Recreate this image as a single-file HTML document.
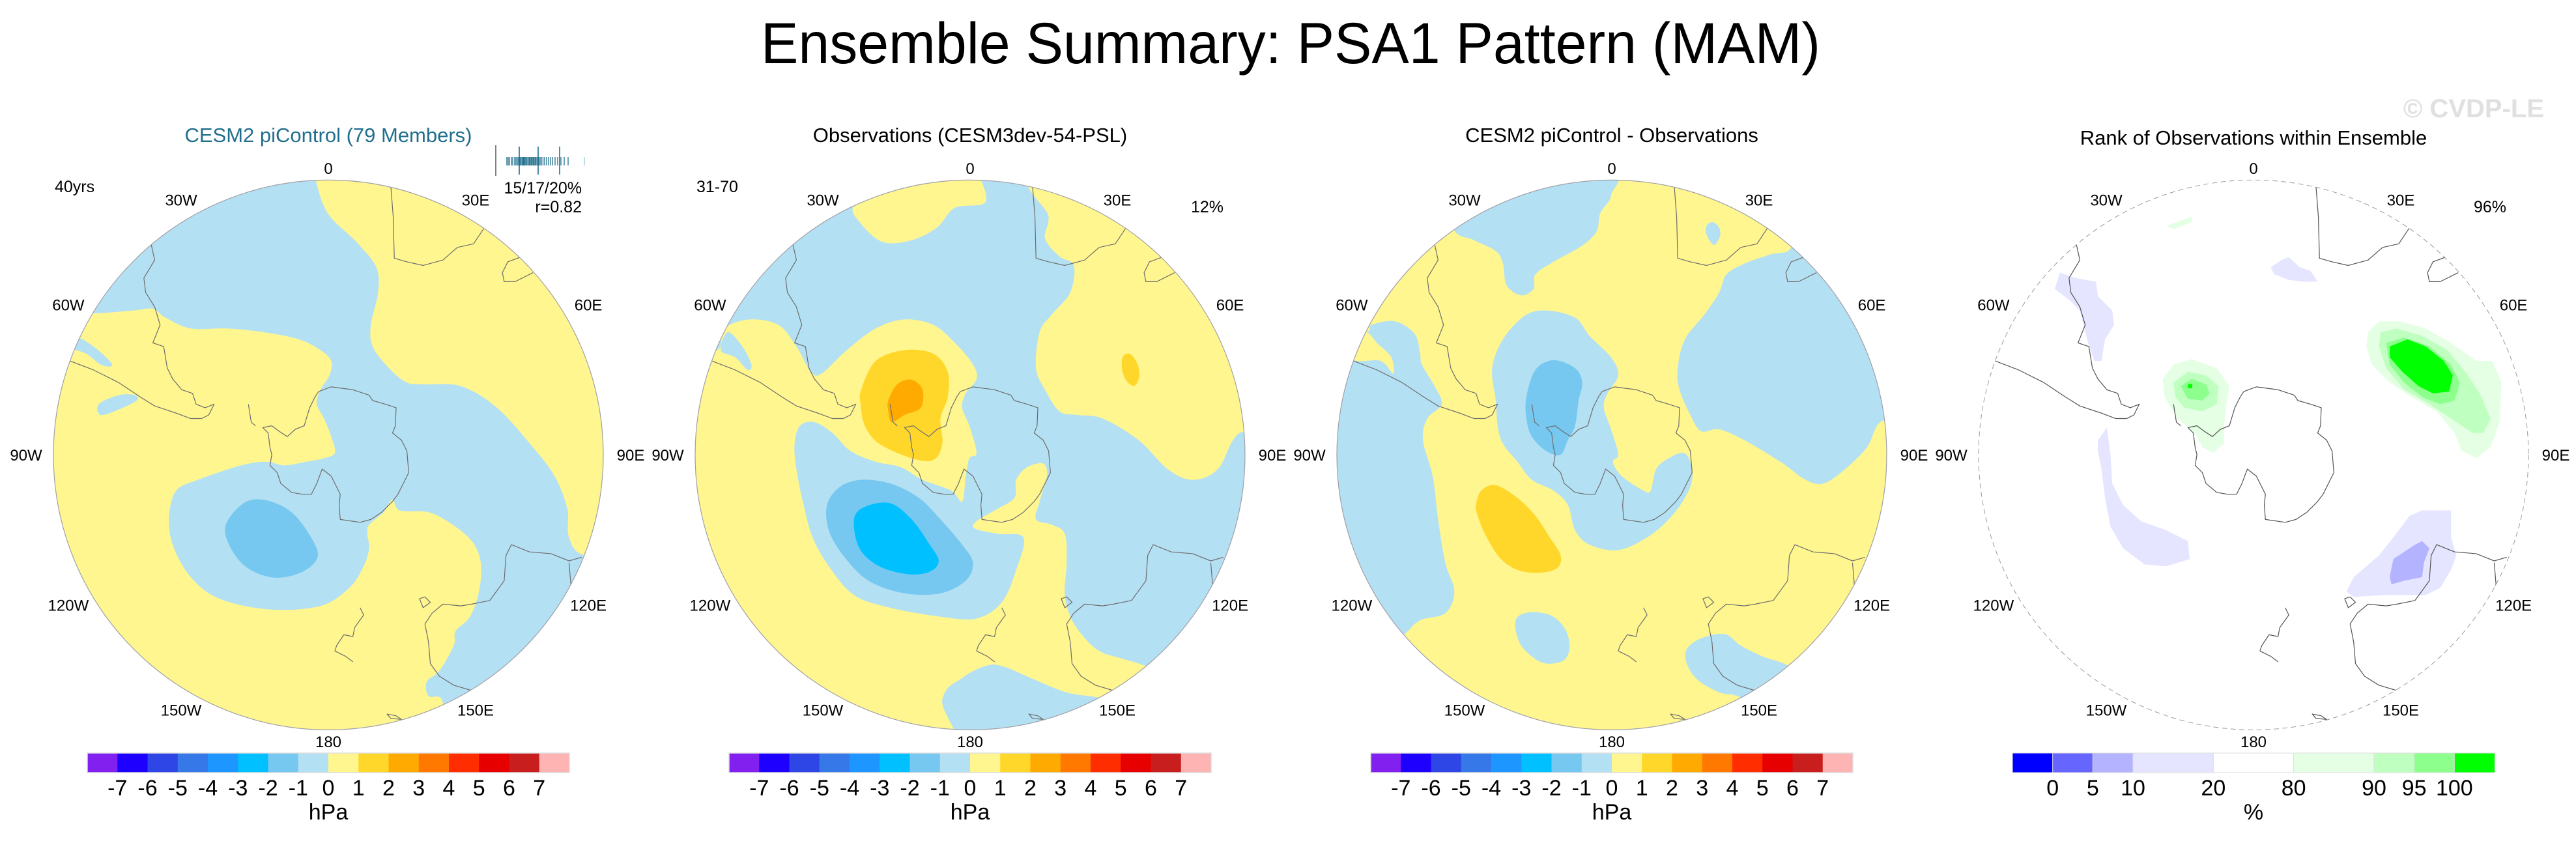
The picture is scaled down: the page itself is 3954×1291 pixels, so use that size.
<!DOCTYPE html>
<html><head><meta charset="utf-8"><style>
html,body{margin:0;padding:0;background:#fff;}
svg{display:block;font-family:"Liberation Sans",Arial,sans-serif;}
</style></head><body>
<svg id="root" width="3954" height="1291" viewBox="0 0 3954 1291" xmlns="http://www.w3.org/2000/svg">
<rect width="3954" height="1291" fill="#fff"/>
<text x="1981" y="97" font-size="89" text-anchor="middle" textLength="1626" lengthAdjust="spacingAndGlyphs" fill="#000">Ensemble Summary: PSA1 Pattern (MAM)</text>
<text x="3905" y="180" font-size="40" font-weight="bold" text-anchor="end" fill="#e0e0e0">© CVDP-LE</text>
<text x="504" y="218" font-size="31" text-anchor="middle" fill="#1f6e8c">CESM2 piControl (79 Members)</text>
<text x="1489" y="218" font-size="31" text-anchor="middle" fill="#000">Observations (CESM3dev-54-PSL)</text>
<text x="2474" y="218" font-size="31" text-anchor="middle" fill="#000">CESM2 piControl - Observations</text>
<text x="3459" y="222" font-size="31" text-anchor="middle" fill="#000">Rank of Observations within Ensemble</text>
<text x="84" y="295" font-size="25" fill="#000">40yrs</text>
<text x="893" y="297" font-size="25" text-anchor="end" fill="#000">15/17/20%</text>
<text x="893" y="326" font-size="25" text-anchor="end" fill="#000">r=0.82</text>
<text x="1069" y="295" font-size="25" fill="#000">31-70</text>
<text x="1878" y="326" font-size="25" text-anchor="end" fill="#000">12%</text>
<text x="3847" y="326" font-size="25" text-anchor="end" fill="#000">96%</text>
<g id="mini"></g>
<g id="panels"></g>
<g id="bars"></g>
</svg>
<script>
// ---- data ----
const hpaLevels = ["-7","-6","-5","-4","-3","-2","-1","0","1","2","3","4","5","6","7"];
const hpaColors = ["#8220f0","#1e00ff","#2e46e6","#3778e8","#1e96ff","#00c0ff","#76c8f0","#b4e0f3","#fff68f","#ffd72a","#ffaa00","#ff7800","#ff2d00","#e60000","#c81e1e","#ffb4b4"];
const rankLevels = ["0","5","10","20","80","90","95","100"];
const rankColors = ["#0000ff","#6666ff","#b3b3ff","#e5e5ff","#ffffff","#e5ffe5","#bfffbf","#8cff8c","#00ff00"];
const rankUnits = [1,1,1,2,2,2,1,1,1];
const memberVals = [0.734,0.738,0.742,0.748,0.752,0.758,0.762,0.766,0.770,0.774,0.776,0.780,0.782,0.785,0.788,0.790,0.793,0.796,0.800,0.803,0.806,0.809,0.812,0.815,0.818,0.821,0.824,0.828,0.832,0.836,0.840,0.845,0.850,0.856,0.862,0.868,0.874,0.882,0.890,0.900,0.910,0.922,0.972];
const memberPct = [0.772,0.830,0.896];
const obsVal = 0.70;
const lonLabels = ["0","30E","60E","90E","120E","150E","180","150W","120W","90W","60W","30W"];

const NS="http://www.w3.org/2000/svg";
function mk(tag,attrs,parent){const e=document.createElementNS(NS,tag);for(const k in attrs)e.setAttribute(k,attrs[k]);if(parent)parent.appendChild(e);return e;}
function smooth(p){let n=p.length,d="M"+p[0][0]+","+p[0][1];for(let i=0;i<n;i++){const p0=p[(i-1+n)%n],p1=p[i],p2=p[(i+1)%n],p3=p[(i+2)%n];
 const c1=[p1[0]+(p2[0]-p0[0])/6,p1[1]+(p2[1]-p0[1])/6],c2=[p2[0]-(p3[0]-p1[0])/6,p2[1]-(p3[1]-p1[1])/6];
 d+=" C"+c1[0].toFixed(1)+","+c1[1].toFixed(1)+" "+c2[0].toFixed(1)+","+c2[1].toFixed(1)+" "+p2[0]+","+p2[1];}return d+"Z";}
function poly(p){return "M"+p.map(q=>q.join(",")).join(" L")+"Z";}

// mini strip
const mini=document.getElementById('mini');
const mx=v=>761+(v-obsVal)*500;
let ob=mk('line',{x1:mx(obsVal),x2:mx(obsVal),y1:223,y2:270,stroke:'#555','stroke-width':1.5},mini);


memberVals.forEach((v,i)=>{const last=i===memberVals.length-1;
 const l=mk('line',{x1:mx(v),x2:mx(v),y1:241,y2:254,stroke:last?'#9cc6d6':'#1f6e8c','stroke-width':1.3},mini);
 
 });
memberPct.forEach(v=>{const l=mk('line',{x1:mx(v),x2:mx(v),y1:225,y2:268,stroke:'#1f6e8c','stroke-width':1.6},mini);
 
 });

// coastlines (shared, z-units)
const coasts=[
 "M955,30 L962,120 L965,235 L1000,245 L1045,255 L1100,240 L1140,205 L1185,195 L1215,150",
 "M1315,232 L1280,245 L1265,275 L1270,300 L1300,300 L1350,275",
 "M755,605 L790,592 L850,600 L895,615 L905,630 L940,640 L970,650 L968,700 L960,720 L985,740 L1000,770 L1005,830 L990,860 L975,890 L960,910 L930,940 L900,960 L870,968 L815,960 L812,920 L815,890 L800,860 L790,840 L765,820 L750,860 L735,890 L710,890 L680,885 L650,860 L640,830 L620,810 L625,780 L620,760 L615,720 L600,705 L625,700 L645,715 L668,730 L690,710 L715,700 L730,650 L745,620 Z",
 "M560,640 L568,690 L580,700",
 "M290,195 L300,240 L270,290 L275,330 L300,370 L315,420 L295,470 L325,480 L335,540 L350,570 L375,600 L405,610 L415,640 L440,650 L465,640 L450,670 L430,680",
 "M65,520 L130,545 L200,580 L260,620 L300,645 L360,665 L400,680 L430,680",
 "M1485,1065 L1450,1075 L1400,1055 L1340,1050 L1290,1030 L1275,1060 L1270,1130 L1230,1185 L1180,1195 L1150,1200 L1100,1195 L1070,1220 L1050,1250 L1060,1300 L1065,1360 L1090,1395 L1130,1420 L1180,1435",
 "M1450,1080 L1455,1140 L1440,1180",
 "M1035,1180 L1050,1175 L1065,1190 L1045,1205 Z",
 "M870,1205 L880,1225 L855,1260 L850,1285 L825,1280 L805,1310 L800,1325 L830,1340 L850,1355",
 "M945,1500 L970,1505 L985,1515 L955,1512 Z"
];
const BLUE="#b4e0f3",YEL="#fff68f";
const panels=[
 {cx:504,bg:YEL,name:"model-mean-map",shapes:[
  [BLUE,"blue-region-negative",[[740,-20],[745,12],[780,110],[860,190],[915,260],[920,330],[900,420],[905,480],[950,540],[1000,580],[1050,585],[1150,590],[1250,650],[1350,760],[1410,840],[1445,930],[1450,1010],[1495,1060],[1650,1060],[1650,1650],[1090,1650],[1100,1470],[1060,1450],[1055,1410],[1090,1380],[1130,1310],[1135,1270],[1175,1230],[1200,1160],[1205,1080],[1180,1020],[1120,970],[1060,940],[980,935],[960,905],[935,940],[895,975],[890,1000],[895,1040],[880,1090],[840,1150],[760,1200],[620,1210],[480,1180],[400,1120],[350,1030],[340,950],[360,880],[420,850],[540,810],[610,800],[660,810],[720,800],[770,790],[800,775],[790,730],[770,680],[750,640],[760,600],[785,560],[790,520],[760,490],[700,460],[600,440],[500,430],[400,430],[330,400],[295,375],[240,380],[130,388],[-20,388],[-20,-20]]],
  [BLUE,"blue-blob-west",[[85,455],[130,480],[175,520],[180,535],[150,530],[110,500],[60,480]]],
  [BLUE,"blue-blob-pacific",[[145,640],[200,615],[245,615],[250,630],[200,655],[150,670]]],
  ["#76c8f0","low-center",[[495,990],[540,920],[600,905],[680,940],[740,1020],[750,1070],[700,1110],[620,1120],[540,1080]]]
 ]},
 {cx:1489,bg:BLUE,name:"observations-map",shapes:[
  [YEL,"yellow-top-patch",[[460,90],[560,50],[700,-10],[790,-10],[825,78],[740,95],[690,150],[620,185],[540,190],[480,140]]],
  [YEL,"yellow-east-region",[[985,-10],[1000,120],[990,180],[1030,230],[1070,255],[1060,330],[1010,390],[975,440],[965,540],[990,600],[1030,660],[1080,670],[1150,680],[1250,740],[1330,820],[1400,850],[1470,820],[1530,720],[1650,700],[1650,-10]]],
  [YEL,"yellow-west-region",[[-20,490],[80,490],[100,430],[170,405],[250,420],[300,480],[340,550],[370,555],[440,490],[520,430],[600,405],[680,420],[740,470],[790,530],[800,570],[770,610],[760,650],[780,700],[800,775],[780,790],[770,840],[760,910],[730,880],[650,850],[590,815],[520,800],[450,770],[400,720],[350,690],[310,700],[295,750],[300,820],[320,920],[345,1010],[390,1090],[460,1170],[560,1205],[700,1230],[800,1235],[870,1190],[910,1100],[930,1010],[860,1000],[795,985],[800,965],[850,935],[905,900],[910,850],[940,815],[985,805],[995,840],[975,910],[965,960],[1010,975],[1045,1000],[1050,1080],[1045,1170],[1065,1240],[1110,1300],[1150,1330],[1200,1345],[1265,1365],[1350,1400],[1200,1480],[1140,1455],[1050,1440],[950,1400],[880,1370],[830,1365],[760,1400],[705,1460],[700,1650],[-20,1650]]],
  [BLUE,"blue-sliver-west",[[110,440],[150,480],[175,530],[165,545],[130,510],[90,490]]],
  ["#ffd72a","high-1hpa",[[480,600],[520,520],[600,490],[680,500],[720,550],[720,620],[700,680],[705,750],[680,795],[620,790],[530,750],[490,700],[478,640]]],
  ["#ffaa00","high-2hpa",[[555,630],[580,585],[620,572],[650,600],[645,650],[600,670],[565,690],[555,660]]],
  ["#ffd72a","high-east-blob",[[1205,510],[1225,500],[1245,525],[1252,560],[1240,588],[1220,580],[1205,550]]],
  ["#76c8f0","low-1hpa",[[385,920],[420,870],[480,850],[560,860],[640,900],[700,960],[760,1030],[790,1080],[770,1130],[700,1165],[600,1165],[500,1130],[430,1060],[390,990]]],
  ["#00c0ff","low-2hpa",[[460,960],[490,925],[560,915],[620,960],[670,1030],[695,1075],[670,1105],[610,1112],[530,1090],[475,1040]]]
 ]},
 {cx:2474,bg:YEL,name:"difference-map",shapes:[
  [BLUE,"blue-top",[[340,150],[400,185],[460,215],[480,250],[490,310],[530,338],[565,320],[570,280],[620,245],[700,200],[740,160],[750,110],[780,60],[760,-10],[300,-10]]],
  [BLUE,"blue-small-africa",[[1062,135],[1080,150],[1082,175],[1065,198],[1045,170],[1045,145]]],
  [BLUE,"blue-east",[[1280,205],[1220,225],[1150,250],[1100,280],[1080,330],[1040,390],[985,460],[965,540],[970,600],[1000,670],[1030,715],[1080,710],[1150,740],[1250,800],[1320,850],[1370,860],[1430,820],[1490,760],[1535,685],[1650,685],[1650,100],[1280,100]]],
  [BLUE,"blue-west",[[-20,440],[99,440],[115,420],[180,410],[235,445],[250,500],[255,530],[290,590],[310,640],[270,680],[258,740],[285,840],[300,960],[320,1080],[345,1160],[320,1220],[250,1240],[205,1280],[150,1320],[-20,1320]]],
  [YEL,"yellow-wedge",[[60,515],[140,520],[175,555],[170,510],[130,470],[100,440],[40,440]]],
  [BLUE,"blue-center-ring",[[450,540],[480,460],[540,395],[600,380],[680,400],[720,450],[780,510],[800,560],[770,610],[760,650],[780,710],[800,780],[785,800],[810,840],[870,880],[890,880],[905,820],[940,790],[980,775],[1000,800],[1005,850],[985,900],[940,960],[880,1010],[800,1045],[720,1030],[680,990],[660,920],[620,880],[560,850],[520,800],[480,750],[465,700],[460,630]]],
  ["#76c8f0","low-center",[[545,620],[570,545],[620,518],[680,540],[700,580],[690,630],[680,700],[660,740],[640,780],[600,770],[560,730],[545,680]]],
  ["#ffd72a","high-pacific",[[405,920],[420,880],[460,865],[520,900],[570,950],[610,1010],[640,1060],[630,1095],[580,1108],[520,1100],[470,1065],[430,1000],[410,950]]],
  [BLUE,"blue-south",[[515,1240],[550,1218],[610,1225],[650,1260],[665,1310],[650,1350],[600,1360],[560,1340],[525,1300]]],
  [BLUE,"blue-australia",[[1140,1455],[1080,1440],[1020,1405],[990,1360],[990,1320],[1030,1290],[1095,1278],[1140,1310],[1200,1340],[1270,1365],[1350,1420],[1200,1520]]]
 ]},
 {cx:3459,bg:"#ffffff",rank:true,name:"rank-map",shapes:[
  ["#e5e5ff","rank-20-sa",[[245,275],[290,290],[345,300],[350,340],[390,380],[395,420],[370,460],[360,520],[340,520],[320,460],[300,380],[270,350],[230,320]]],
  ["#e5e5ff","rank-20-top",[[830,260],[860,240],[880,232],[910,260],[940,270],[960,300],[920,300],[880,295],[840,280]]],
  ["#e5e5ff","rank-20-arc",[[350,740],[375,705],[385,780],[390,860],[420,920],[470,965],[540,990],[600,1020],[605,1070],[540,1090],[480,1085],[420,1040],[385,980],[370,900],[360,820],[350,770]]],
  ["#e5e5ff","rank-20-aus",[[1040,1160],[1060,1120],[1130,1060],[1170,1010],[1215,950],[1250,935],[1330,935],[1330,1010],[1345,1060],[1330,1100],[1300,1150],[1260,1170],[1150,1170],[1060,1175]]],
  ["#b3b3ff","rank-10-aus",[[1160,1120],[1170,1070],[1230,1030],[1250,1020],[1270,1040],[1255,1080],[1250,1120],[1200,1130],[1165,1140]]],
  ["#e5ffe5","rank-80-east",[[1100,440],[1130,410],[1190,410],[1260,430],[1330,470],[1400,520],[1445,520],[1470,580],[1465,690],[1440,760],[1400,790],[1360,770],[1340,720],[1290,660],[1220,620],[1160,580],[1110,530],[1095,480]]],
  ["#bfffbf","rank-90-east",[[1135,440],[1180,430],[1250,450],[1320,490],[1370,550],[1410,610],[1440,680],[1420,720],[1390,720],[1330,680],[1270,640],[1200,600],[1150,540],[1130,480]]],
  ["#8cff8c","rank-95-east",[[1150,470],[1200,455],[1270,480],[1330,530],[1355,580],[1340,630],[1300,640],[1250,620],[1200,580],[1160,530]]],
  ["#00ff00","rank-100-east",[[1160,480],[1210,460],[1260,480],[1310,520],[1335,560],[1325,605],[1280,610],[1240,590],[1195,550],[1160,510]]],
  ["#e5ffe5","rank-80-peninsula",[[530,570],[560,530],[610,515],[680,540],[715,590],[705,650],[700,700],[700,750],[670,775],[640,760],[620,720],[570,680],[535,620]]],
  ["#bfffbf","rank-90-peninsula",[[560,580],[600,550],[650,560],[685,590],[680,640],[640,660],[590,650],[565,620]]],
  ["#8cff8c","rank-95-peninsula",[[580,590],[610,570],[650,585],[660,610],[640,630],[600,625]]],
  ["#e5ffe5","rank-80-top",[[540,145],[610,120],[610,135],[560,155]]]
 ]}
];
const S=422/763, CY=698.4;
const pg=document.getElementById('panels');
panels.forEach((p,i)=>{
 const g=mk('g',{transform:`translate(${(p.cx-782*S).toFixed(2)},${(CY-781*S).toFixed(2)}) scale(${S.toFixed(5)})`},pg);
 
 
 const cp=mk('clipPath',{id:'clip'+i},g);mk('circle',{cx:782,cy:781,r:763},cp);
 const inner=mk('g',{'clip-path':`url(#clip${i})`},g);
 mk('rect',{x:0,y:0,width:1570,height:1570,fill:p.bg},inner);
 p.shapes.forEach(s=>{
  const e=mk('path',{d:p.rank?poly(s[2]):smooth(s[2]),fill:s[0]},inner);
  
  
 });
 if(p.rank){const sq=mk('rect',{x:600,y:584,width:12,height:12,fill:'#00ff00'},inner);}
 coasts.forEach(c=>{const e=mk('path',{d:c,fill:'none',stroke:p.rank?'#555':'#6e6e6e','stroke-width':2.2,'stroke-linejoin':'round'},inner);
  
  });
 const ring=mk('circle',{cx:782,cy:781,r:763,fill:'none',stroke:p.rank?'#999':'#a0a0a8','stroke-width':p.rank?1.8:2.2},g);
 if(p.rank)ring.setAttribute('stroke-dasharray','14 10');
 
 
 lonLabels.forEach((t,k)=>{const th=k*30*Math.PI/180;const r=440+Math.abs(Math.sin(th))*24;
  const x=p.cx+r*Math.sin(th),y=CY-r*Math.cos(th);
  const e=mk('text',{x:x.toFixed(1),y:(y+8.5).toFixed(1),'font-size':24,'text-anchor':'middle',fill:'#000'},pg);
  e.textContent=t;
  
  });
});

// colorbars
const bars=document.getElementById('bars');
const BY=1156,BH=30,BW=740;
[504,1489,2474].forEach(cx=>{
 const g=mk('g',{},bars);
 
 
 const x0=cx-BW/2,w=BW/hpaColors.length;
 hpaColors.forEach((c,k)=>{const r=mk('rect',{x:x0+k*w,y:BY,width:w+0.5,height:BH,fill:c},g);
  
  });
 mk('rect',{x:x0,y:BY,width:BW,height:BH,fill:'none',stroke:'#ddd','stroke-width':1.5},g);
 hpaLevels.forEach((t,k)=>{const e=mk('text',{x:x0+(k+1)*w,y:1221,'font-size':34,'text-anchor':'middle',fill:'#000'},g);
  e.textContent=t;
  
  });
 const u=mk('text',{x:cx,y:1258,'font-size':34,'text-anchor':'middle',fill:'#000'},g);u.textContent='hPa';
 
 
});
(function(){
 const cx=3459,g=mk('g',{},bars);
 
 
 const tot=rankUnits.reduce((a,b)=>a+b,0),uw=BW/tot,x0=cx-BW/2;let acc=0;const edges=[];
 rankColors.forEach((c,k)=>{const r=mk('rect',{x:x0+acc*uw,y:BY,width:rankUnits[k]*uw+0.5,height:BH,fill:c,stroke:'#ddd','stroke-width':1},g);
  
  
  acc+=rankUnits[k];edges.push(acc);});
 rankLevels.forEach((t,k)=>{const e=mk('text',{x:x0+edges[k]*uw,y:1221,'font-size':34,'text-anchor':'middle',fill:'#000'},g);
  e.textContent=t;
  
  });
 const u=mk('text',{x:cx,y:1258,'font-size':34,'text-anchor':'middle',fill:'#000'},g);u.textContent='%';
 
 
})();
</script>
</body></html>
